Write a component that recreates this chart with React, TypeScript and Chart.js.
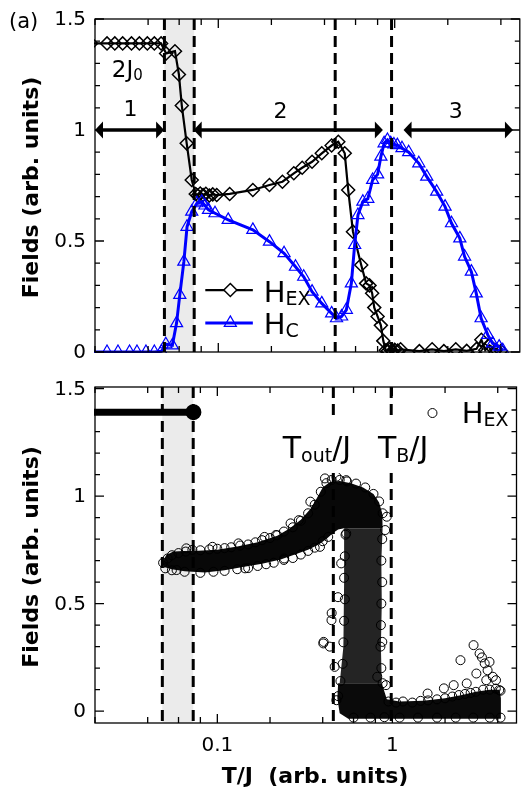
import React, { useEffect, useRef } from "react";
import { Chart, registerables } from "chart.js";
Chart.register(...registerables);

const FONT = '"DejaVu Sans", sans-serif';
const BLUE = "#0000ff";
const SHADE = "#ebebeb";

// ---------- axes ----------
const X_MIN = 0.02;
const X_MAX = 5.12;
const xMajorTicks = [0.1, 1];
const xMajorLabels = ["0.1", "1"];
const xMinorTicks = [0.02, 0.04, 0.06, 0.08, 0.2, 0.4, 0.6, 0.8, 2, 4];
const yTicks = [0, 0.1, 0.2, 0.3, 0.4, 0.5, 0.6, 0.7, 0.8, 0.9, 1, 1.1, 1.2, 1.3, 1.4, 1.5];
const yMajorTicks = [0, 0.5, 1, 1.5];
const yMajorLabels = ["0", "0.5", "1", "1.5"];

// ---------- top panel: H_EX (diamonds) ----------
const hexTopT = [0.019, 0.0234, 0.0259, 0.0287, 0.0322, 0.0357, 0.0396, 0.0434, 0.0474, 0.0506, 0.0568, 0.0598, 0.0621, 0.0662, 0.0707, 0.0745, 0.0765, 0.079, 0.082, 0.085, 0.089, 0.093, 0.098, 0.116, 0.157, 0.195, 0.231, 0.268, 0.299, 0.34, 0.386, 0.439, 0.479, 0.521, 0.545, 0.58, 0.646, 0.689, 0.72, 0.745, 0.766, 0.8, 0.835, 0.862, 0.89, 0.915, 0.94, 0.97, 1.0, 1.04, 1.08, 1.38, 1.63, 1.9, 2.22, 2.56, 2.91, 3.1, 3.26, 3.45, 3.76, 4.01];
const hexTopV = [1.39, 1.39, 1.39, 1.39, 1.39, 1.39, 1.39, 1.39, 1.39, 1.345, 1.355, 1.25, 1.11, 0.94, 0.775, 0.712, 0.705, 0.714, 0.707, 0.713, 0.705, 0.71, 0.707, 0.712, 0.73, 0.752, 0.767, 0.805, 0.83, 0.857, 0.895, 0.93, 0.947, 0.895, 0.73, 0.542, 0.392, 0.309, 0.3, 0.265, 0.2, 0.16, 0.12, 0.05, 0.008, 0.005, 0.012, 0.004, 0.01, 0.006, 0.012, 0.004, 0.012, 0.004, 0.012, 0.005, 0.014, 0.055, 0.008, 0.03, 0.01, 0.005];

// ---------- top panel: H_C (triangles) ----------
const hcTopT = [0.019, 0.0234, 0.027, 0.0314, 0.0346, 0.0389, 0.0434, 0.0476, 0.0504, 0.0549, 0.058, 0.0605, 0.0638, 0.0665, 0.0707, 0.0757, 0.0806, 0.084, 0.088, 0.0958, 0.1138, 0.157, 0.195, 0.236, 0.274, 0.305, 0.34, 0.386, 0.439, 0.468, 0.5, 0.532, 0.568, 0.593, 0.619, 0.66, 0.704, 0.75, 0.8, 0.835, 0.871, 0.91, 0.95, 0.99, 1.035, 1.1, 1.2, 1.37, 1.52, 1.73, 1.93, 2.1, 2.34, 2.49, 2.72, 2.9, 3.09, 3.37, 3.59, 3.91, 4.1];
const hcTopV = [0, 0, 0, 0, 0, 0, 0, 0.003, 0.035, 0.03, 0.13, 0.257, 0.407, 0.564, 0.632, 0.67, 0.677, 0.66, 0.64, 0.625, 0.595, 0.55, 0.497, 0.445, 0.384, 0.339, 0.272, 0.219, 0.174, 0.152, 0.16, 0.19, 0.309, 0.482, 0.617, 0.677, 0.69, 0.775, 0.8, 0.88, 0.94, 0.955, 0.94, 0.935, 0.932, 0.918, 0.9, 0.85, 0.79, 0.722, 0.655, 0.58, 0.512, 0.43, 0.362, 0.264, 0.152, 0.077, 0.039, 0.024, 0.008];

// ---------- top panel annotations ----------
const shadeTop = [0.0495, 0.073];
const dashTop = [0.0495, 0.073, 0.46, 0.96];
const arrowFrom = [0.02, 0.0725, 1.123];
const arrowTo = [0.0493, 0.857, 4.68];
const arrowLevel = 1.0;
const regionLabels = ["1", "2", "3"];
const regionLabelT = [0.0318, 0.225, 2.22];
const regionLabelV = [1.09, 1.08, 1.08];

// ---------- bottom panel: H_EX scatter ----------
const plateauT = [0.019, 0.073];
const plateauV = [1.39, 1.39];

// dense band of overlapping circles (outline of the solid region)
const bandT = [0.0485, 0.051, 0.056, 0.065, 0.073, 0.1, 0.13, 0.17, 0.22, 0.26, 0.3, 0.34, 0.37, 0.4, 0.44, 0.5, 0.58, 0.68, 0.78, 0.84, 0.875, 0.88, 0.53, 0.49, 0.46, 0.42, 0.38, 0.33, 0.28, 0.23, 0.18, 0.14, 0.11, 0.085, 0.065, 0.055, 0.0495];
const bandV = [0.69, 0.725, 0.742, 0.745, 0.745, 0.75, 0.765, 0.785, 0.815, 0.85, 0.89, 0.94, 0.99, 1.04, 1.065, 1.07, 1.06, 1.04, 1.01, 0.97, 0.92, 0.85, 0.85, 0.845, 0.83, 0.8, 0.775, 0.75, 0.73, 0.705, 0.685, 0.67, 0.655, 0.645, 0.65, 0.66, 0.67];
const columnT = [0.53, 0.88, 0.865, 0.87, 0.86, 0.87, 0.5, 0.525, 0.53];
const columnV = [0.85, 0.85, 0.7, 0.5, 0.3, 0.13, 0.13, 0.3, 0.6];
const floorT = [0.49, 0.87, 0.93, 1.1, 1.5, 2.0, 2.5, 3.0, 3.6, 4.1, 4.17, 4.17, 0.56, 0.5, 0.485];
const floorV = [0.13, 0.13, 0.055, 0.045, 0.048, 0.06, 0.075, 0.09, 0.1, 0.1, 0.06, -0.035, -0.035, -0.01, 0.06];

// individual circles (edges and outliers)
const cloudT = [
  0.049, 0.052, 0.055, 0.06, 0.066, 0.072, 0.08, 0.09, 0.1, 0.11, 0.12, 0.135, 0.15, 0.165, 0.18, 0.2, 0.22, 0.24, 0.27, 0.3, 0.33, 0.36, 0.39, 0.42, 0.45, 0.5, 0.55, 0.62, 0.7, 0.78, 0.84,
  0.0504, 0.0665, 0.0938, 0.132, 0.186, 0.216, 0.262, 0.292, 0.34, 0.412, 0.479, 0.545, 0.386, 0.241, 0.144, 0.0585,
  0.055, 0.065, 0.08, 0.095, 0.11, 0.13, 0.15, 0.17, 0.19, 0.21, 0.24, 0.27, 0.3, 0.33, 0.36, 0.4, 0.43,
  0.54, 0.535, 0.53, 0.535, 0.53, 0.525, 0.52, 0.505, 0.49, 0.88, 0.875, 0.865, 0.875, 0.865, 0.86, 0.855, 0.865, 0.88,
  0.51, 0.545, 0.489, 0.449, 0.403, 0.439, 0.876, 0.91, 0.929, 0.82, 0.45, 0.92, 0.479, 0.468, 0.405,
  0.95, 1.05, 1.15, 1.3, 1.45, 1.6, 1.8, 2.0, 2.2, 2.4, 2.6, 2.8, 3.0, 3.3, 3.6, 3.9, 4.15,
  0.6, 0.75, 0.9, 1.1, 1.4, 1.8, 2.3, 2.9, 3.6, 4.15,
  2.91, 2.45, 3.15, 3.37, 3.59, 3.02, 3.44, 3.91, 1.59, 1.97, 2.24, 2.66, 4.08, 3.25, 3.5, 3.75
];
const cloudV = [
  0.69, 0.71, 0.725, 0.735, 0.742, 0.75, 0.748, 0.752, 0.755, 0.758, 0.762, 0.77, 0.775, 0.785, 0.795, 0.805, 0.818, 0.835, 0.855, 0.885, 0.92, 0.96, 1.02, 1.06, 1.075, 1.075, 1.068, 1.058, 1.04, 1.01, 0.975,
  0.664, 0.757, 0.764, 0.78, 0.81, 0.819, 0.873, 0.888, 0.974, 1.082, 1.09, 1.074, 0.764, 0.71, 0.664, 0.656,
  0.655, 0.648, 0.643, 0.648, 0.652, 0.66, 0.665, 0.675, 0.683, 0.69, 0.703, 0.712, 0.728, 0.745, 0.76, 0.79, 0.81,
  0.82, 0.72, 0.62, 0.52, 0.42, 0.32, 0.22, 0.14, 0.07, 0.92, 0.8, 0.7, 0.6, 0.5, 0.4, 0.3, 0.2, 0.13,
  0.687, 0.826, 0.53, 0.423, 0.315, 0.3, 0.322, 0.842, 0.904, 0.16, 0.456, 0.121, 0.051, 0.206, 0.322,
  0.045, 0.04, 0.045, 0.04, 0.048, 0.05, 0.055, 0.06, 0.068, 0.075, 0.08, 0.085, 0.09, 0.1, 0.1, 0.105, 0.095,
  -0.03, -0.03, -0.028, -0.03, -0.03, -0.03, -0.03, -0.03, -0.03, -0.03,
  0.307, 0.237, 0.268, 0.222, 0.229, 0.175, 0.144, 0.144, 0.082, 0.106, 0.121, 0.129, 0.098, 0.25, 0.19, 0.16
];

const shadeBot = [0.0485, 0.0728];
const dashBot = [0.0485, 0.0728, 0.46, 0.985];

type Part = { t: string; s: number; dy?: number; b?: boolean };

function fontOf(p: Part) {
  return `${p.b ? "bold " : ""}${p.s}px ${FONT}`;
}
function richWidth(ctx: CanvasRenderingContext2D, parts: Part[]) {
  let w = 0;
  for (const p of parts) {
    ctx.font = fontOf(p);
    w += ctx.measureText(p.t).width;
  }
  return w;
}
function drawRich(ctx: CanvasRenderingContext2D, parts: Part[], x: number, y: number, align: string, baseline = "alphabetic") {
  const w = richWidth(ctx, parts);
  let cx = align === "center" ? x - w / 2 : align === "right" ? x - w : x;
  ctx.textAlign = "left";
  ctx.textBaseline = baseline as CanvasTextBaseline;
  ctx.fillStyle = "#000";
  for (const p of parts) {
    ctx.font = fontOf(p);
    ctx.fillText(p.t, cx, y + (p.dy || 0));
    cx += ctx.measureText(p.t).width;
  }
}

function drawFrameAndTicks(chart: any, showXLabels: boolean) {
  const { ctx, chartArea: a, scales } = chart;
  const xs = scales.x, ys = scales.y;
  ctx.save();
  ctx.strokeStyle = "#000";
  ctx.lineWidth = 1.3;
  ctx.strokeRect(a.left, a.top, a.right - a.left, a.bottom - a.top);
  ctx.beginPath();
  const xt = (v: number, len: number) => {
    const p = xs.getPixelForValue(v);
    if (p < a.left - 0.5 || p > a.right + 0.5) return;
    ctx.moveTo(p, a.bottom);
    ctx.lineTo(p, a.bottom - len);
    ctx.moveTo(p, a.top);
    ctx.lineTo(p, a.top + len);
  };
  xMinorTicks.forEach((v) => xt(v, 6));
  xMajorTicks.forEach((v) => xt(v, 9));
  yTicks.forEach((v) => {
    const p = ys.getPixelForValue(v);
    const len = yMajorTicks.includes(v) ? 9 : 5;
    ctx.moveTo(a.left, p);
    ctx.lineTo(a.left + len, p);
    ctx.moveTo(a.right, p);
    ctx.lineTo(a.right - len, p);
  });
  ctx.stroke();
  ctx.fillStyle = "#000";
  ctx.font = `20px ${FONT}`;
  ctx.textAlign = "right";
  ctx.textBaseline = "middle";
  yMajorTicks.forEach((v, i) => {
    ctx.fillText(yMajorLabels[i], a.left - 9, ys.getPixelForValue(v) + 1);
  });
  if (showXLabels) {
    ctx.textAlign = "center";
    xMajorTicks.forEach((v, i) => {
      ctx.fillText(xMajorLabels[i], xs.getPixelForValue(v), a.bottom + 23);
    });
  }
  // y title
  ctx.save();
  ctx.translate(32, (a.top + a.bottom) / 2 + 2);
  ctx.rotate(-Math.PI / 2);
  ctx.font = `bold 22px ${FONT}`;
  ctx.textAlign = "center";
  ctx.textBaseline = "middle";
  ctx.fillText("Fields (arb. units)", 0, 0);
  ctx.restore();
  ctx.restore();
}

function drawDashes(ctx: CanvasRenderingContext2D, xs: any, a: any, list: number[]) {
  ctx.save();
  ctx.strokeStyle = "#000";
  ctx.lineWidth = 3;
  ctx.setLineDash([11, 6]);
  ctx.beginPath();
  list.forEach((v) => {
    const p = xs.getPixelForValue(v);
    ctx.moveTo(p, a.top);
    ctx.lineTo(p, a.bottom);
  });
  ctx.stroke();
  ctx.restore();
}

function fillPoly(ctx: CanvasRenderingContext2D, xs: any, ys: any, T: number[], V: number[], color: string) {
  ctx.beginPath();
  T.forEach((t, i) => {
    const px = xs.getPixelForValue(t);
    const py = ys.getPixelForValue(V[i]);
    if (i === 0) ctx.moveTo(px, py);
    else ctx.lineTo(px, py);
  });
  ctx.closePath();
  ctx.fillStyle = color;
  ctx.fill();
}

const topDecor = {
  id: "topDecor",
  beforeDatasetsDraw(chart: any) {
    const { ctx, chartArea: a, scales } = chart;
    const s0 = scales.x.getPixelForValue(shadeTop[0]);
    const s1 = scales.x.getPixelForValue(shadeTop[1]);
    ctx.save();
    ctx.fillStyle = SHADE;
    ctx.fillRect(s0, a.top, s1 - s0, a.bottom - a.top);
    ctx.restore();
  },
  afterDatasetsDraw(chart: any) {
    const { ctx, chartArea: a, scales } = chart;
    const xs = scales.x, ys = scales.y;
    drawDashes(ctx, xs, a, dashTop);
    ctx.save();
    const yc = ys.getPixelForValue(arrowLevel);
    ctx.strokeStyle = "#000";
    ctx.fillStyle = "#000";
    ctx.lineWidth = 3.5;
    arrowFrom.forEach((f, i) => {
      const L = xs.getPixelForValue(f);
      const R = xs.getPixelForValue(arrowTo[i]);
      ctx.beginPath();
      ctx.moveTo(L + 4, yc);
      ctx.lineTo(R - 4, yc);
      ctx.stroke();
      ctx.beginPath();
      ctx.moveTo(L, yc);
      ctx.lineTo(L + 8, yc - 8.5);
      ctx.lineTo(L + 8, yc + 8.5);
      ctx.closePath();
      ctx.fill();
      ctx.beginPath();
      ctx.moveTo(R, yc);
      ctx.lineTo(R - 8, yc - 8.5);
      ctx.lineTo(R - 8, yc + 8.5);
      ctx.closePath();
      ctx.fill();
    });
    regionLabels.forEach((t, i) => {
      drawRich(ctx, [{ t, s: 22 }], xs.getPixelForValue(regionLabelT[i]), ys.getPixelForValue(regionLabelV[i]), "center", "middle");
    });
    drawRich(ctx, [{ t: "2J", s: 23 }, { t: "0", s: 15, dy: 3 }], xs.getPixelForValue(0.0249), ys.getPixelForValue(1.239), "left");
    // legend
    const lx0 = xs.getPixelForValue(0.0844), lx1 = xs.getPixelForValue(0.157), lm = xs.getPixelForValue(0.117);
    const ly1 = ys.getPixelForValue(0.279), ly2 = ys.getPixelForValue(0.131);
    ctx.lineWidth = 2.2;
    ctx.strokeStyle = "#000";
    ctx.beginPath();
    ctx.moveTo(lx0, ly1);
    ctx.lineTo(lx1, ly1);
    ctx.stroke();
    ctx.beginPath();
    ctx.moveTo(lm, ly1 - 6.5);
    ctx.lineTo(lm + 6.5, ly1);
    ctx.lineTo(lm, ly1 + 6.5);
    ctx.lineTo(lm - 6.5, ly1);
    ctx.closePath();
    ctx.fillStyle = "#fff";
    ctx.fill();
    ctx.lineWidth = 1.5;
    ctx.stroke();
    ctx.strokeStyle = BLUE;
    ctx.lineWidth = 3;
    ctx.beginPath();
    ctx.moveTo(lx0, ly2);
    ctx.lineTo(lx1, ly2);
    ctx.stroke();
    const r = 7;
    ctx.lineWidth = 1.2;
    ctx.beginPath();
    ctx.moveTo(lm, ly2 - r);
    ctx.lineTo(lm + r * 0.866, ly2 + r / 2);
    ctx.lineTo(lm - r * 0.866, ly2 + r / 2);
    ctx.closePath();
    ctx.stroke();
    const tx = xs.getPixelForValue(0.181);
    drawRich(ctx, [{ t: "H", s: 29 }, { t: "EX", s: 19, dy: 3 }], tx, ys.getPixelForValue(0.225), "left");
    drawRich(ctx, [{ t: "H", s: 29 }, { t: "C", s: 19, dy: 3 }], tx, ys.getPixelForValue(0.081), "left");
    ctx.restore();
  },
  afterDraw(chart: any) {
    drawFrameAndTicks(chart, false);
    const { ctx } = chart;
    ctx.save();
    drawRich(ctx, [{ t: "(a)", s: 21 }], 9, 23, "left", "middle");
    ctx.restore();
  },
};

const botDecor = {
  id: "botDecor",
  beforeDatasetsDraw(chart: any) {
    const { ctx, chartArea: a, scales } = chart;
    const xs = scales.x, ys = scales.y;
    const s0 = xs.getPixelForValue(shadeBot[0]);
    const s1 = xs.getPixelForValue(shadeBot[1]);
    ctx.save();
    ctx.beginPath();
    ctx.rect(a.left, a.top, a.right - a.left, a.bottom - a.top);
    ctx.clip();
    ctx.fillStyle = SHADE;
    ctx.fillRect(s0, a.top, s1 - s0, a.bottom - a.top);
    fillPoly(ctx, xs, ys, bandT, bandV, "#080808");
    fillPoly(ctx, xs, ys, columnT, columnV, "#242424");
    fillPoly(ctx, xs, ys, floorT, floorV, "#0a0a0a");
    ctx.restore();
  },
  afterDatasetsDraw(chart: any) {
    const { ctx, chartArea: a, scales } = chart;
    const xs = scales.x, ys = scales.y;
    drawDashes(ctx, xs, a, dashBot);
    ctx.save();
    const labels: { parts: Part[]; t: number }[] = [
      { parts: [{ t: "T", s: 30 }, { t: "out", s: 19, dy: 4 }, { t: "/J", s: 30 }], t: 0.371 },
      { parts: [{ t: "T", s: 30 }, { t: "B", s: 19, dy: 4 }, { t: "/J", s: 30 }], t: 1.152 },
    ];
    const by = ys.getPixelForValue(1.177);
    labels.forEach((l) => {
      const w = richWidth(ctx, l.parts);
      const cx = xs.getPixelForValue(l.t);
      ctx.fillStyle = "#fff";
      ctx.fillRect(cx - w / 2 - 3, by - 37, w + 6, 52);
      drawRich(ctx, l.parts, cx, by, "center");
    });
    const cx = xs.getPixelForValue(1.695), cy = ys.getPixelForValue(1.386);
    ctx.strokeStyle = "#000";
    ctx.lineWidth = 1;
    ctx.beginPath();
    ctx.arc(cx, cy, 4.5, 0, Math.PI * 2);
    ctx.stroke();
    drawRich(ctx, [{ t: "H", s: 29 }, { t: "EX", s: 19, dy: 3 }], xs.getPixelForValue(2.49), ys.getPixelForValue(1.34), "left");
    ctx.restore();
  },
  afterDraw(chart: any) {
    drawFrameAndTicks(chart, true);
    const { ctx } = chart;
    ctx.save();
    ctx.font = `bold 22px ${FONT}`;
    ctx.fillStyle = "#000";
    ctx.textAlign = "center";
    ctx.textBaseline = "middle";
    ctx.fillText("T/J  (arb. units)", 315, 407);
    ctx.restore();
  },
};

const pts = (T: number[], V: number[]) => T.map((t, i) => ({ x: t, y: V[i] }));

export default function App() {
  const topRef = useRef<HTMLCanvasElement>(null);
  const botRef = useRef<HTMLCanvasElement>(null);

  useEffect(() => {
    const common = {
      animation: false as const,
      responsive: false,
      devicePixelRatio: 1,
      events: [] as any[],
      plugins: { legend: { display: false }, tooltip: { enabled: false } },
    };
    const c1 = new Chart(topRef.current!, {
      type: "line",
      data: {
        datasets: [
          {
            label: "H_C",
            data: pts(hcTopT, hcTopV),
            borderColor: BLUE,
            borderWidth: 3,
            pointStyle: "triangle",
            pointRadius: 7,
            pointBorderColor: BLUE,
            pointBorderWidth: 1.2,
            pointBackgroundColor: "rgba(0,0,0,0)",
            tension: 0,
            clip: 1,
          },
          {
            label: "H_EX",
            data: pts(hexTopT, hexTopV),
            borderColor: "#000",
            borderWidth: 2.2,
            pointStyle: "rectRot",
            pointRadius: 6.5,
            pointBorderColor: "#000",
            pointBorderWidth: 1.5,
            pointBackgroundColor: "rgba(0,0,0,0)",
            tension: 0,
            clip: 1,
          },
        ],
      },
      options: {
        ...common,
        layout: { padding: { left: 95, right: 2, top: 19, bottom: 18 } },
        scales: {
          x: { type: "logarithmic", min: X_MIN, max: X_MAX, display: false },
          y: { type: "linear", min: 0, max: 1.5, display: false },
        },
      } as any,
      plugins: [topDecor],
    });
    const c2 = new Chart(botRef.current!, {
      type: "line",
      data: {
        datasets: [
          {
            label: "plateau",
            data: pts(plateauT, plateauV),
            borderColor: "#000",
            borderWidth: 7,
            pointRadius: [0, 4.5],
            pointBackgroundColor: "#000",
            pointBorderColor: "#000",
            clip: 1,
          },
          {
            label: "H_EX",
            data: pts(cloudT, cloudV),
            showLine: false,
            pointStyle: "circle",
            pointRadius: 4.5,
            pointBorderWidth: 1,
            pointBorderColor: "#000",
            pointBackgroundColor: "rgba(0,0,0,0)",
            clip: 1,
          },
        ],
      },
      options: {
        ...common,
        layout: { padding: { left: 95, right: 2, top: 17, bottom: 70 } },
        scales: {
          x: { type: "logarithmic", min: X_MIN, max: X_MAX, display: false },
          y: { type: "linear", min: -0.055, max: 1.507, display: false },
        },
      } as any,
      plugins: [botDecor],
    });
    return () => {
      c1.destroy();
      c2.destroy();
    };
  }, []);

  return (
    <div style={{ position: "absolute", left: 0, top: 0, width: 524, height: 793, overflow: "hidden", background: "#fff" }}>
      <canvas ref={topRef} width={528} height={370} style={{ position: "absolute", left: 0, top: 0, width: 528, height: 370 }} />
      <canvas ref={botRef} width={528} height={423} style={{ position: "absolute", left: 0, top: 370, width: 528, height: 423 }} />
    </div>
  );
}
